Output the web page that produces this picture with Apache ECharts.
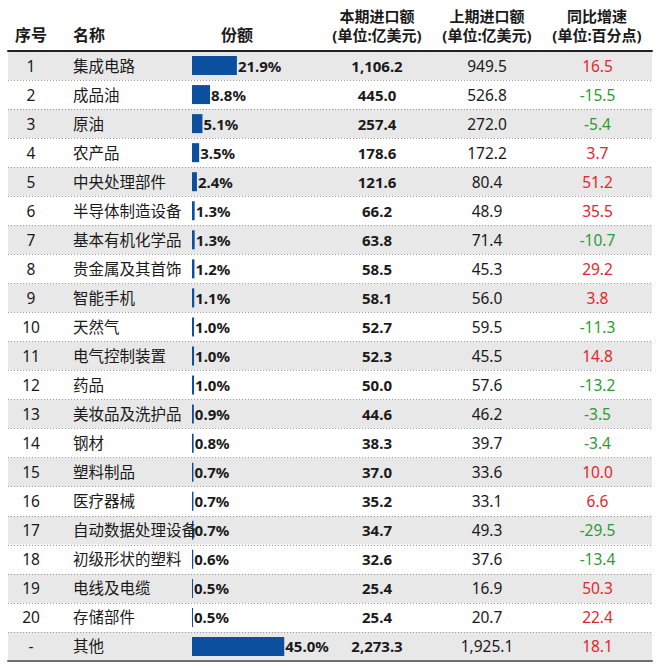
<!DOCTYPE html>
<html>
<head>
<meta charset="utf-8">
<script src="https://cdn.jsdelivr.net/npm/echarts@6/dist/echarts.min.js"></script>
<style>
html,body{margin:0;padding:0;background:#fff;}
#chart{width:660px;height:670px;}
</style>
</head>
<body>
<div id="chart"></div>
<script>
// ---- data ----
var ranks = ['1','2','3','4','5','6','7','8','9','10','11','12','13','14','15','16','17','18','19','20','-'];
var names = ['集成电路','成品油','原油','农产品','中央处理部件','半导体制造设备','基本有机化学品','贵金属及其首饰','智能手机','天然气','电气控制装置','药品','美妆品及洗护品','钢材','塑料制品','医疗器械','自动数据处理设备','初级形状的塑料','电线及电缆','存储部件','其他'];
var shares = [21.9, 8.8, 5.1, 3.5, 2.4, 1.3, 1.3, 1.2, 1.1, 1.0, 1.0, 1.0, 0.9, 0.8, 0.7, 0.7, 0.7, 0.6, 0.5, 0.5, 45.0];
var currentImports = [1106.2, 445.0, 257.4, 178.6, 121.6, 66.2, 63.8, 58.5, 58.1, 52.7, 52.3, 50.0, 44.6, 38.3, 37.0, 35.2, 34.7, 32.6, 25.4, 25.4, 2273.3];
var previousImports = [949.5, 526.8, 272.0, 172.2, 80.4, 48.9, 71.4, 45.3, 56.0, 59.5, 45.5, 57.6, 46.2, 39.7, 33.6, 33.1, 49.3, 37.6, 16.9, 20.7, 1925.1];
var growth = [16.5, -15.5, -5.4, 3.7, 51.2, 35.5, -10.7, 29.2, 3.8, -11.3, 14.8, -13.2, -3.5, -3.4, 10.0, 6.6, -29.5, -13.4, 50.3, 22.4, 18.1];
var headerSingle = ['序号', '名称', '份额'];
var headerTop = ['本期进口额', '上期进口额', '同比增速'];
var headerBottom = ['(单位:亿美元)', '(单位:亿美元)', '(单位:百分点)'];

// ---- layout ----
var TABLE_LEFT = 8, TABLE_W = 644, TABLE_TOP = 51, TABLE_H = 610;
var FONT = "'Noto Sans', 'Noto Sans CJK SC', sans-serif";
var FS = 15.5;
var rowIdx = names.map(function(_, i){ return i; });

function fmt(v){
  return v.toLocaleString('en-US', {minimumFractionDigits:1, maximumFractionDigits:1});
}

function textSeries(xPos, texts, align, opts){
  opts = opts || {};
  return {
    type: 'scatter', xAxisIndex: 0, yAxisIndex: 0,
    symbol: 'rect', symbolSize: 1, silent: true,
    data: rowIdx.map(function(i){ return [xPos, i]; }),
    label: {
      show: true, position: 'inside', align: align, verticalAlign: 'middle',
      fontFamily: FONT, fontSize: opts.fs || FS, fontWeight: opts.bold ? 'bold' : 'normal',
      color: opts.color || '#1a1a1a', opacity: 1,
      formatter: function(p){ return texts[p.dataIndex]; }
    },
    itemStyle: { color: 'rgba(0,0,0,0)' },
    z: 5
  };
}

var chart = echarts.init(document.getElementById('chart'), null, {renderer: 'svg'});

var growthSeries = textSeries(597.5 - TABLE_LEFT, growth.map(function(v){ return v.toFixed(1); }), 'center');
growthSeries.label.formatter = function(p){
  var v = growth[p.dataIndex];
  return (v >= 0 ? '{pos|' : '{neg|') + v.toFixed(1) + '}';
};
growthSeries.label.rich = {
  pos: { color: '#e3262b', fontFamily: FONT, fontSize: FS },
  neg: { color: '#2f9a35', fontFamily: FONT, fontSize: FS }
};

var headerGraphics = [];
var singleX = [31, 73, 237];
var singleAlign = ['center', 'left', 'center'];
headerSingle.forEach(function(t, i){
  headerGraphics.push({
    type: 'text', x: singleX[i], y: 35,
    style: { text: t, fontFamily: FONT, fontSize: 16, fontWeight: 'bold', fill: '#1a1a1a',
             textAlign: singleAlign[i], textVerticalAlign: 'middle' }
  });
});
var dblX = [377, 487, 597];
headerTop.forEach(function(t, i){
  headerGraphics.push({
    type: 'text', x: dblX[i], y: 15.5,
    style: { text: t, fontFamily: FONT, fontSize: 15, fontWeight: 'bold', fill: '#1a1a1a',
             textAlign: 'center', textVerticalAlign: 'middle' }
  });
  headerGraphics.push({
    type: 'text', x: dblX[i], y: 35,
    style: { text: headerBottom[i], fontFamily: FONT, fontSize: 15, fontWeight: 'bold', fill: '#1a1a1a',
             textAlign: 'center', textVerticalAlign: 'middle' }
  });
});

var option = {
  backgroundColor: '#ffffff',
  animation: false,
  graphic: headerGraphics,
  grid: [
    { left: TABLE_LEFT, top: TABLE_TOP, width: TABLE_W, height: TABLE_H, containLabel: false },
    { left: 192, top: TABLE_TOP, width: 205, height: TABLE_H, containLabel: false }
  ],
  xAxis: [
    { gridIndex: 0, type: 'value', min: 0, max: TABLE_W, position: 'top',
      axisLine: { show: true, onZero: false, lineStyle: { color: '#222', width: 2 } },
      axisTick: { show: false }, axisLabel: { show: false }, splitLine: { show: false } },
    { gridIndex: 0, type: 'value', min: 0, max: TABLE_W, position: 'bottom',
      axisLine: { show: true, onZero: false, lineStyle: { color: '#6f6f6f', width: 2 } },
      axisTick: { show: false }, axisLabel: { show: false }, splitLine: { show: false } },
    { gridIndex: 1, type: 'value', min: 0, max: 100, show: false }
  ],
  yAxis: [
    { gridIndex: 0, type: 'category', inverse: true, data: rowIdx,
      axisLine: { show: false }, axisTick: { show: false }, axisLabel: { show: false },
      splitLine: { show: true, lineStyle: { color: '#9a9a9a', type: [1, 2], width: 1 } },
      splitArea: { show: true, areaStyle: { color: ['#e8e8e8', '#ffffff'] } } },
    { gridIndex: 1, type: 'category', inverse: true, data: rowIdx, show: false }
  ],
  series: [
    {
      type: 'bar', xAxisIndex: 2, yAxisIndex: 1,
      data: shares, barWidth: 19,
      itemStyle: { color: '#0b4f9e' },
      label: {
        show: true, position: 'right', distance: 1,
        fontFamily: FONT, fontSize: 15, fontWeight: 'bold', color: '#1a1a1a',
        formatter: function(p){ return p.value.toFixed(1) + '%'; }
      },
      z: 4
    },
    textSeries(31 - TABLE_LEFT, ranks, 'center'),
    textSeries(73 - TABLE_LEFT, names, 'left'),
    textSeries(377 - TABLE_LEFT, currentImports.map(fmt), 'center', { bold: true, fs: 15 }),
    textSeries(487 - TABLE_LEFT, previousImports.map(fmt), 'center'),
    growthSeries
  ]
};
chart.setOption(option);
</script>
</body>
</html>
